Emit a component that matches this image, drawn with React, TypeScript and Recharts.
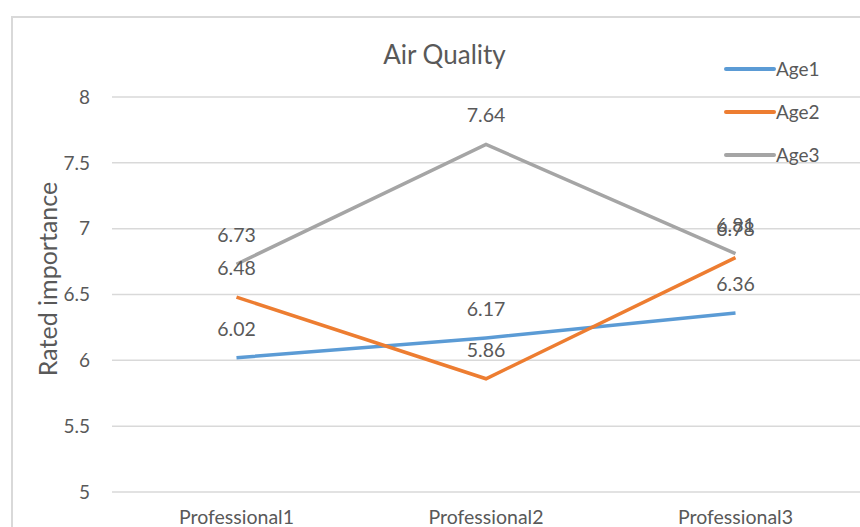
import React from 'react';
import { LineChart, Line, XAxis, YAxis, CartesianGrid, Legend, LabelList } from 'recharts';

const categories = ['Professional1', 'Professional2', 'Professional3'];
const age1 = [6.02, 6.17, 6.36];
const age2 = [6.48, 5.86, 6.78];
const age3 = [6.73, 7.64, 6.81];
const yTicks = [5, 5.5, 6, 6.5, 7, 7.5, 8];

const series = [
  { key: 'Age1', color: '#5B9BD5' },
  { key: 'Age2', color: '#ED7D31' },
  { key: 'Age3', color: '#A5A5A5' },
];

const data = categories.map((name, i) => ({
  name,
  Age1: age1[i],
  Age2: age2[i],
  Age3: age3[i],
}));

const FONT = 'Lato, "Open Sans", sans-serif';
const TEXT = '#595959';

function LegendBox() {
  return (
    <div style={{ fontFamily: FONT }}>
      {series.map((s) => (
        <div key={s.key} style={{ display: 'flex', alignItems: 'center', height: 43 }}>
          <svg width={52} height={8}>
            <line x1={2} y1={4} x2={50} y2={4} stroke={s.color} strokeWidth={4} strokeLinecap="round" />
          </svg>
          <span style={{ fontSize: 19, color: TEXT }}>{s.key}</span>
        </div>
      ))}
    </div>
  );
}

export default function App() {
  return (
    <div style={{ position: 'absolute', left: 0, top: 0, width: 860, height: 527, overflow: 'hidden', background: '#fff' }}>
      <div
        style={{
          position: 'absolute',
          left: 11,
          top: 16,
          width: 900,
          height: 600,
          border: '2px solid #D9D9D9',
        }}
      />
      <div
        style={{
          position: 'absolute',
          left: 0,
          width: 889,
          top: 38,
          textAlign: 'center',
          fontFamily: FONT,
          fontSize: 26,
          color: TEXT,
        }}
      >
        Air Quality
      </div>
      <div style={{ position: 'absolute', left: 0, top: 0 }}>
        <LineChart width={860} height={527} data={data} margin={{ top: 97, right: 0, bottom: 5, left: 12 }}>
          <CartesianGrid vertical={false} stroke="#D9D9D9" strokeWidth={1.5} />
          <XAxis
            dataKey="name"
            height={30}
            axisLine={false}
            tickLine={false}
            tickSize={0}
            tickMargin={18}
            padding={{ left: 124.5, right: 124.5 }}
            tick={{ fill: TEXT, fontSize: 19.5, fontFamily: FONT }}
          />
          <YAxis
            width={100}
            domain={[5, 8]}
            ticks={yTicks}
            axisLine={false}
            tickLine={false}
            tickSize={0}
            tickMargin={22}
            tick={{ fill: TEXT, fontSize: 19, fontFamily: FONT }}
            label={{
              content: () => (
                <text
                  x={47}
                  y={279}
                  transform="rotate(-90 47 279)"
                  textAnchor="middle"
                  dominantBaseline="central"
                  fill={TEXT}
                  fontSize={25}
                  fontFamily={FONT}
                >
                  Rated importance
                </text>
              ),
            }}
          />
          <Legend
            layout="vertical"
            align="center"
            verticalAlign="middle"
            wrapperStyle={{ left: 724, top: 47, width: 130 }}
            content={() => <LegendBox />}
          />
          {series.map((s) => (
            <Line
              key={s.key}
              dataKey={s.key}
              stroke={s.color}
              strokeWidth={3.5}
              dot={false}
              activeDot={false}
              isAnimationActive={false}
            >
              <LabelList dataKey={s.key} position="top" offset={22} fill={TEXT} fontSize={19.5} fontFamily={FONT} />
            </Line>
          ))}
        </LineChart>
      </div>
    </div>
  );
}
